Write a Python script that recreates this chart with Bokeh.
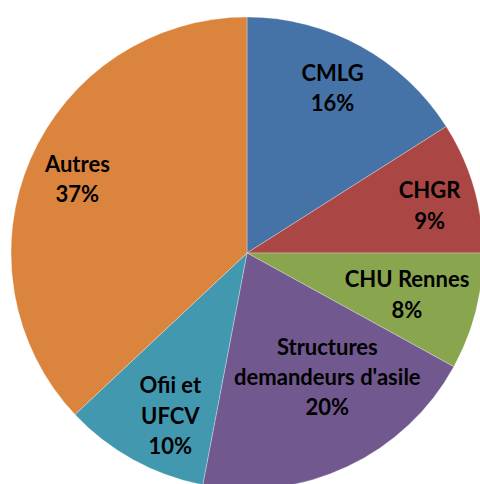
import math
from bokeh.plotting import figure
from bokeh.models import ColumnDataSource
from bokeh.core.properties import value
from bokeh.embed import file_html
from bokeh.resources import INLINE

# ---- data ----
labels = ["CMLG", "CHGR", "CHU Rennes", "Structures\ndemandeurs d'asile", "Ofii et\nUFCV", "Autres"]
shares = [16, 9, 8, 20, 10, 37]
colors = ["#4572A7", "#AA4643", "#89A54E", "#71588F", "#4198AF", "#DB843D"]

# ---- layout (styles / positions) ----
W, H = 480, 484
cx, cy = 246.5, H - 252.5
R = 236
label_r = [0.79, 0.80, 0.70, 0.625, 0.76, 0.785]
label_nudge_deg = [-1.5, 1.5, 0, -7.8, -3.5, 0.3]

total = sum(shares)
starts, ends, lx, ly, texts = [], [], [], [], []
cum = 0.0
for i, s in enumerate(shares):
    a0 = math.pi / 2 - 2 * math.pi * cum / total
    cum += s
    a1 = math.pi / 2 - 2 * math.pi * cum / total
    starts.append(a0)
    ends.append(a1)
    mid = (a0 + a1) / 2 - math.radians(label_nudge_deg[i])
    lx.append(cx + R * label_r[i] * math.cos(mid))
    ly.append(cy + R * label_r[i] * math.sin(mid))
    texts.append(f"{labels[i]}\n{round(100 * s / total)}%")

src = ColumnDataSource(dict(start=starts, end=ends, color=colors))
lsrc = ColumnDataSource(dict(x=lx, y=ly, t=texts))

p = figure(width=W, height=H, x_range=(0, W), y_range=(0, H),
           output_backend="svg", toolbar_location=None,
           min_border=0, outline_line_color=None)
p.axis.visible = False
p.grid.visible = False
p.background_fill_color = "white"

p.wedge(x=cx, y=cy, radius=R, start_angle="start", end_angle="end",
        direction="clock", fill_color="color", line_color="white",
        line_alpha=0.5, line_width=0.6, source=src)

p.text(x="x", y="y", text="t", source=lsrc, text_align="center",
       text_baseline="middle", text_font=value("Lato"), text_font_style="bold",
       text_font_size="22px", text_color="black", text_line_height=1.12)

open("out.html", "w").write(file_html(p, INLINE))
